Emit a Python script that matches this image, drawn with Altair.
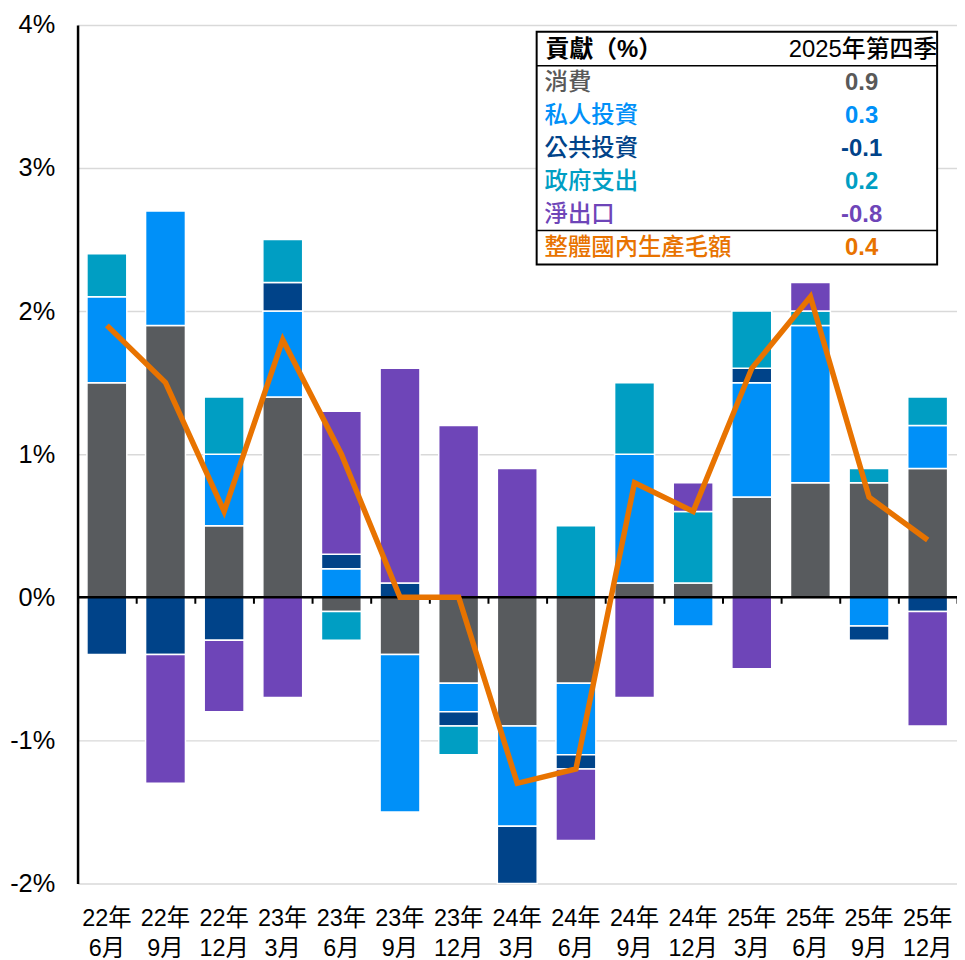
import altair as alt
import pandas as pd

# ---------------- data ----------------
quarters = ["22年\n6月", "22年\n9月", "22年\n12月", "23年\n3月", "23年\n6月",
            "23年\n9月", "23年\n12月", "24年\n3月", "24年\n6月", "24年\n9月",
            "24年\n12月", "25年\n3月", "25年\n6月", "25年\n9月", "25年\n12月"]
consumption = [1.5, 1.9, 0.5, 1.4, -0.1, -0.4, -0.6, -0.9, -0.6, 0.1, 0.1, 0.7, 0.8, 0.8, 0.9]
private_inv = [0.6, 0.8, 0.5, 0.6, 0.2, -1.1, -0.2, -0.7, -0.5, 0.9, -0.2, 0.8, 1.1, -0.2, 0.3]
public_inv = [-0.4, -0.4, -0.3, 0.2, 0.1, 0.1, -0.1, -0.4, -0.1, 0.0, 0.0, 0.1, 0.0, -0.1, -0.1]
government = [0.3, 0.0, 0.4, 0.3, -0.2, 0.0, -0.2, 0.0, 0.5, 0.5, 0.5, 0.4, 0.1, 0.1, 0.2]
net_exports = [0.0, -0.9, -0.5, -0.7, 1.0, 1.5, 1.2, 0.9, -0.5, -0.7, 0.2, -0.5, 0.2, 0.0, -0.8]
gdp = [1.9, 1.5, 0.6, 1.8, 1.0, 0.0, 0.0, -1.3, -1.2, 0.8, 0.6, 1.6, 2.1, 0.7, 0.4]

components = ["消費", "私人投資", "公共投資", "政府支出", "淨出口"]
series = [consumption, private_inv, public_inv, government, net_exports]
colors = ["#585B5E", "#0090F8", "#004389", "#009EC3", "#6E45B8"]
label_colors = ["#595959", "#0090F8", "#004389", "#009EC3", "#6E45B8"]
gdp_name = "整體國內生產毛額"
gdp_color = "#E87300"
table_header = ["貢獻（%）", "2025年第四季"]

FONT = "Liberation Sans, Arial, Noto Sans CJK TC"
W, H = 885, 864

# ---------------- tables ----------------
rows = []
for ci, (name, vals) in enumerate(zip(components, series)):
    for q, v in zip(quarters, vals):
        if v != 0:
            rows.append({"quarter": q, "component": name, "value": v, "order": ci})
bar_df = pd.DataFrame(rows)
gdp_df = pd.DataFrame({"quarter": quarters, "gdp": gdp})
q_df = pd.DataFrame({"quarter": quarters})

tbl_labels = components + [gdp_name]
tbl_vals = [s[-1] for s in series] + [gdp[-1]]
tbl_cols = label_colors + [gdp_color]
tbl_df = pd.DataFrame({
    "label": tbl_labels,
    "val": [f"{v:.1f}" for v in tbl_vals],
    "col": tbl_cols,
    "row": list(range(len(tbl_labels))),
})

xsc = alt.Scale(type="band", paddingInner=0.32, paddingOuter=0.16)
ysc = alt.Scale(domain=[-2, 4], nice=False, zero=False)
yaxis = alt.Axis(values=[-2, -1, 0, 1, 2, 3, 4], labelExpr="datum.value + '%'",
                 domain=True, domainColor="black", domainWidth=2.5, ticks=False,
                 grid=True, gridColor="#d9d9d9", gridWidth=1.5,
                 labelFontSize=25.5, labelColor="black", labelPadding=23,
                 labelFont=FONT, title=None)

bars = alt.Chart(bar_df).mark_bar(stroke="white", strokeWidth=1.5).encode(
    x=alt.X("quarter:N", sort=quarters, scale=xsc, axis=None),
    y=alt.Y("value:Q", stack="zero", scale=ysc, axis=yaxis),
    color=alt.Color("component:N", scale=alt.Scale(domain=components, range=colors), legend=None),
    order=alt.Order("order:Q"),
)

zero = alt.Chart(pd.DataFrame({"z": [0]})).mark_rule(color="black", strokeWidth=2.5).encode(
    y=alt.Y("z:Q", scale=ysc, axis=yaxis)
)

line = alt.Chart(gdp_df).mark_line(color=gdp_color, strokeWidth=5.5, strokeJoin="miter").encode(
    x=alt.X("quarter:N", sort=quarters, scale=xsc, axis=None),
    y=alt.Y("gdp:Q", scale=ysc, axis=yaxis),
)

xlabels = alt.Chart(q_df).mark_text(
    fontSize=23.5, font=FONT, lineBreak="\n", lineHeight=30, baseline="middle",
    align="center", color="black"
).encode(
    x=alt.X("quarter:N", sort=quarters, scale=xsc, axis=None),
    y=alt.value(H + 36),
    text="quarter:N",
)

# legend table
box = alt.Chart(pd.DataFrame({"a": [0]})).mark_rect(
    fill="white", stroke="black", strokeWidth=2
).encode(x=alt.value(462), x2=alt.value(865), y=alt.value(7), y2=alt.value(241))

seps = alt.Chart(pd.DataFrame({"py": [41, 207]})).mark_rule(color="black", strokeWidth=1.5).encode(
    x=alt.value(462), x2=alt.value(865), y=alt.Y("py:Q", scale=None)
)

head_l = alt.Chart(pd.DataFrame({"t": [table_header[0]]})).mark_text(
    fontSize=24, font=FONT, fontWeight="bold", align="left", baseline="middle", color="black"
).encode(x=alt.value(471), y=alt.value(25), text="t:N")

head_r = alt.Chart(pd.DataFrame({"t": [table_header[1]]})).mark_text(
    fontSize=24, font=FONT, fontWeight=500, align="right", baseline="middle", color="black"
).encode(x=alt.value(865), y=alt.value(25), text="t:N")

tbl_base = alt.Chart(tbl_df).transform_calculate(py="59 + datum.row * 33.2")

tbl_lab = tbl_base.mark_text(
    fontSize=23.5, font=FONT, fontWeight=500, align="left", baseline="middle"
).encode(x=alt.value(470), y=alt.Y("py:Q", scale=None), text="label:N",
         color=alt.Color("col:N", scale=None))

tbl_val = tbl_base.mark_text(
    fontSize=24, font=FONT, fontWeight="bold", align="center", baseline="middle"
).encode(x=alt.value(789), y=alt.Y("py:Q", scale=None), text="val:N",
         color=alt.Color("col:N", scale=None))

inner = alt.layer(bars, zero, line, xlabels, box, seps, head_l, head_r, tbl_lab, tbl_val)

# tick marks on the zero line at the boundaries between quarters
ticks = alt.Chart(q_df).mark_point(opacity=0).encode(
    x=alt.X("quarter:N", sort=quarters,
            scale=alt.Scale(type="band", paddingInner=0, paddingOuter=0),
            axis=alt.Axis(labels=False, domain=False, ticks=True, tickColor="black",
                          tickWidth=2, tickSize=6, tickBand="extent", offset=-288,
                          grid=False, title=None)),
)

chart = alt.layer(inner, ticks).resolve_scale(x="independent").properties(
    width=W, height=H,
    autosize=alt.AutoSizeParams(type="none"),
    padding={"left": 70, "top": 14, "right": 0, "bottom": 74},
).configure(font=FONT).configure_view(stroke=None)

chart.save("out.html", embed_options={"renderer": "svg", "actions": False})
